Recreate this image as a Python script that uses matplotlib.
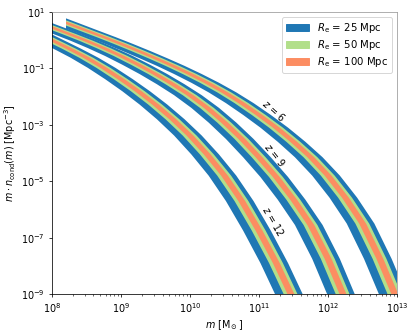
import numpy as np
import matplotlib.pyplot as plt
from matplotlib.patches import Patch, Rectangle

# centre of each band (log10 m, log10 of m*n_cond)
logm_z6 = [7.95, 8.2, 8.5, 8.75, 9.0, 9.25, 9.5, 9.75, 10.0, 10.25, 10.5, 10.75,
           11.0, 11.25, 11.5, 11.75, 12.0, 12.25, 12.5, 12.75, 13.0, 13.2]
logn_z6 = [0.85, 0.62, 0.34, 0.11, -0.13, -0.38, -0.64, -0.91, -1.2, -1.51, -1.85, -2.23,
           -2.65, -3.1, -3.6, -4.15, -4.8, -5.58, -6.5, -7.75, -9.2, -10.6]

logm_z9 = [7.75, 8.0, 8.25, 8.5, 8.75, 9.0, 9.25, 9.5, 9.75, 10.0, 10.25, 10.5,
           10.75, 11.0, 11.25, 11.5, 11.75, 12.0, 12.25, 12.5]
logn_z9 = [0.68, 0.45, 0.22, -0.02, -0.28, -0.56, -0.87, -1.2, -1.56, -1.95, -2.4, -2.92,
           -3.5, -4.15, -4.85, -5.65, -6.55, -7.75, -9.2, -10.9]

logm_z12 = [7.75, 8.0, 8.25, 8.5, 8.75, 9.0, 9.25, 9.5, 9.75, 10.0, 10.25, 10.5,
            10.75, 11.0, 11.25, 11.5, 11.75]
logn_z12 = [0.3, 0.0, -0.3, -0.62, -0.98, -1.38, -1.81, -2.28, -2.8, -3.38, -4.05, -4.8,
            -5.7, -6.75, -7.9, -9.2, -10.7]

redshifts = [6, 9, 12]
logm_start = [8.2, 8.0, 8.0]

# band edges as mass offsets (dex) below / above the centre
radii = [25, 50, 100]
colors = ['#1f77b4', '#b2df8a', '#fc8d62']
shift_lo = [0.23, 0.105, 0.05]
shift_hi = [0.17, 0.095, 0.05]

labels_logm = [11.22, 11.23, 11.2]
labels_logn = [-2.5, -4.05, -6.4]
labels_rot = [-42, -52, -60]

curves = [(logm_z6, logn_z6), (logm_z9, logn_z9), (logm_z12, logn_z12)]

fig, ax = plt.subplots(figsize=(6, 4.8), dpi=69.17)
ax.set_xscale('log')
ax.set_yscale('log')
ax.set_xlim(1e8, 1e13)
ax.set_ylim(1e-9, 1e1)
x0, x1 = ax.get_xlim()
y0, y1 = ax.get_ylim()

for (lm, ln), start in zip(curves, logm_start):
    lm = np.array(lm)
    n = 10 ** np.array(ln)
    clip = Rectangle((10 ** start, y0), x1 - 10 ** start, y1 - y0, transform=ax.transData)
    for c, dlo, dhi in zip(colors, shift_lo, shift_hi):
        xs = np.concatenate([10 ** (lm + dhi), (10 ** (lm - dlo))[::-1]])
        ys = np.concatenate([n, n[::-1]])
        poly = ax.fill(xs, ys, color=c, lw=0)[0]
        poly.set_clip_path(clip)

for z, lx, ly, r in zip(redshifts, labels_logm, labels_logn, labels_rot):
    ax.text(10 ** lx, 10 ** ly, f'$z$ = {z}', rotation=r, ha='center', va='center', fontsize=10)

handles = [Patch(color=c) for c in colors]
ax.legend(handles, [rf'$R_\mathrm{{e}}$ = {r} Mpc' for r in radii], loc='upper right',
          fontsize=10.5, labelspacing=0.3, handlelength=2.3)

ax.set_xlabel(r'$m$ [M$_\odot$]')
ax.set_ylabel(r'$m \cdot n_\mathrm{cond}(m)$ [Mpc$^{-3}$]')
for s in ['top', 'right']:
    ax.spines[s].set_color('#999999')

fig.subplots_adjust(left=0.125, right=0.957, bottom=0.114, top=0.964)
fig.savefig('out.png')
